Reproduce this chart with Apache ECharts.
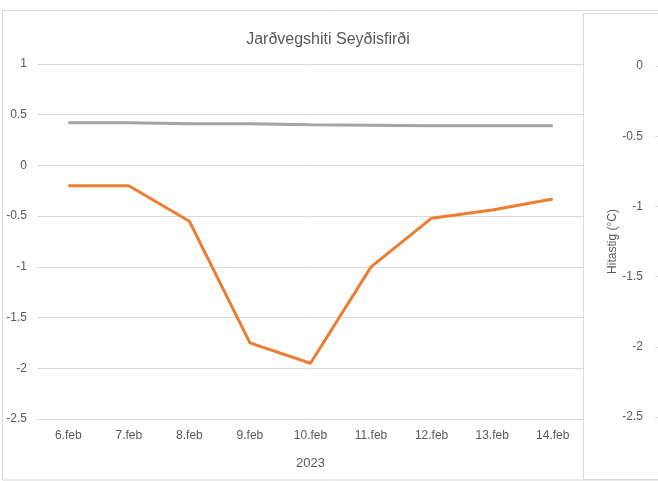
<!DOCTYPE html>
<html>
<head>
<meta charset="utf-8">
<script src="https://cdn.jsdelivr.net/npm/echarts@6/dist/echarts.min.js"></script>
<style>html,body{margin:0;padding:0;background:#fff;}#c{width:658px;height:481px;}</style>
</head>
<body>
<div id="c"></div>
<script>
const categories = ['6.feb','7.feb','8.feb','9.feb','10.feb','11.feb','12.feb','13.feb','14.feb'];
const orangeSeries = [-0.2, -0.2, -0.55, -1.75, -1.95, -1.0, -0.52, -0.44, -0.33];
const graySeries = [0.42, 0.42, 0.41, 0.41, 0.40, 0.395, 0.39, 0.39, 0.39];
const titleText = 'Jarðvegshiti Seyðisfirði';
const xName = '2023';
const rightName = 'Hitastig (°C)';

const FONT = 'Liberation Sans';
const TXT = '#595959';
const chart = echarts.init(document.getElementById('c'), null, {renderer: 'canvas'});
chart.setOption({
  animation: false,
  backgroundColor: '#fff',
  title: {
    text: titleText, left: 323, top: 27, textAlign: 'center',
    textStyle: {fontFamily: FONT, fontSize: 16, fontWeight: 'normal', color: TXT}
  },
  graphic: [
    {type: 'rect', z: 0, shape: {x: 2.5, y: 10.5, width: 700, height: 469.5}, style: {fill: 'none', stroke: '#d9d9d9', lineWidth: 1}},
    {type: 'rect', z: 100, shape: {x: 583.5, y: 13.5, width: 100, height: 466}, style: {fill: '#fff', stroke: '#d9d9d9', lineWidth: 1}}
  ],
  grid: [
    {left: 38, right: 75, top: 64, height: 355},
    {left: 655, width: 3, top: 66, height: 351, z: 200}
  ],
  xAxis: [
    {type: 'category', gridIndex: 0, data: categories, boundaryGap: true,
     axisLine: {show: false}, axisTick: {show: false},
     axisLabel: {fontFamily: FONT, fontSize: 12, color: TXT, margin: 11},
     name: xName, nameLocation: 'middle', nameGap: 38,
     nameTextStyle: {fontFamily: FONT, fontSize: 13, color: TXT}},
    {type: 'value', gridIndex: 1, show: false}
  ],
  yAxis: [
    {type: 'value', gridIndex: 0, min: -2.5, max: 1, interval: 0.5,
     axisLine: {show: false}, axisTick: {show: false},
     splitLine: {lineStyle: {color: '#d9d9d9', width: 1}},
     axisLabel: {fontFamily: FONT, fontSize: 12, color: TXT, margin: 11}},
    {type: 'value', gridIndex: 1, min: -2.5, max: 0, interval: 0.5, position: 'left',
     z: 200,
     axisLine: {show: false}, axisTick: {show: false},
     splitLine: {show: true, lineStyle: {color: '#d9d9d9', width: 1}},
     axisLabel: {fontFamily: FONT, fontSize: 12, color: TXT, margin: 12},
     name: rightName, nameLocation: 'middle', nameGap: 36, nameRotate: 90,
     nameTextStyle: {fontFamily: FONT, fontSize: 12, color: TXT}}
  ],
  series: [
    {type: 'line', xAxisIndex: 0, yAxisIndex: 0, data: graySeries, symbol: 'none',
     lineStyle: {color: '#A5A5A5', width: 3}, z: 3},
    {type: 'line', xAxisIndex: 0, yAxisIndex: 0, data: orangeSeries, symbol: 'none',
     lineStyle: {color: '#ED7D31', width: 3}, z: 4}
  ]
});
</script>
</body>
</html>
